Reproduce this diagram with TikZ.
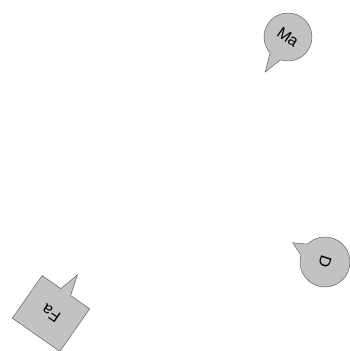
\documentclass[tikz,border=0pt]{standalone}
\usepackage{fontspec}
\setmainfont{Liberation Sans}
\usetikzlibrary{shapes.callouts}

\begin{document}
\begin{tikzpicture}[x=1pt,y=1pt,
  bubble/.style={draw=black!70,fill=black!24,thin,inner sep=0pt,font=\fontsize{16}{18}\selectfont}]
  \useasboundingbox (0,0) rectangle (349,351);
  \node[bubble,ellipse callout,minimum width=48pt,minimum height=48pt,callout pointer arc=30,callout relative pointer={(0.6pt,-17.9pt)},rotate=-35] (ma) at (288,314) {Ma};
  \node[bubble,ellipse callout,minimum width=50pt,minimum height=50pt,callout pointer arc=30,callout relative pointer={(-2.8pt,-12.3pt)},rotate=-108] (d) at (325,89) {D};
  \node[bubble,rectangle callout,minimum width=58pt,minimum height=52pt,callout pointer width=12pt,callout relative pointer={(0.2pt,-20.8pt)},rotate=145] (fa) at (51,37.5) {Fa};
\end{tikzpicture}
\end{document}
